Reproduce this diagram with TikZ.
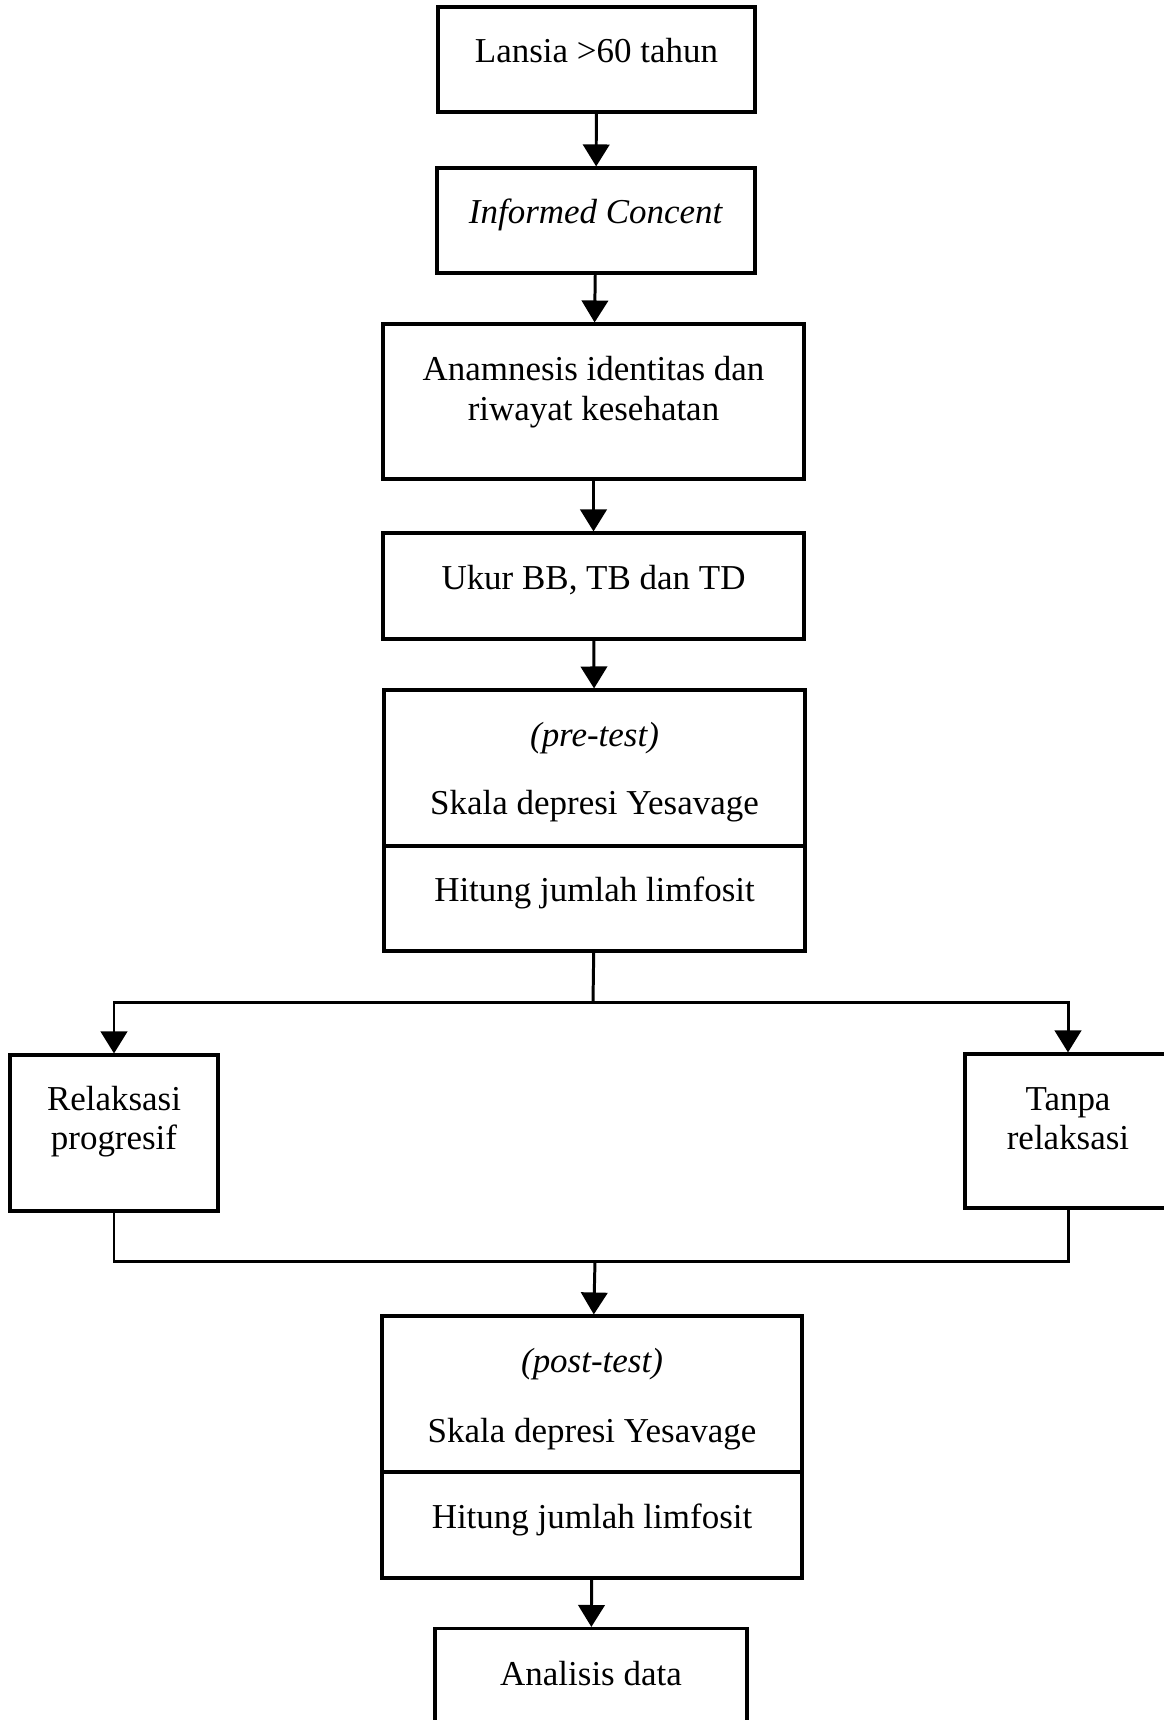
\documentclass[tikz,border=0pt]{standalone}
\usepackage{fontspec}
\setmainfont{Liberation Serif}
\usetikzlibrary{arrows.meta}

\begin{document}
\begin{tikzpicture}[x=0.02cm,y=-0.02cm,
            every node/.style={align=center,font=\fontsize{19.9pt}{21pt}\selectfont},
            stepbox/.style={draw,line width=1.8pt,inner sep=0pt},
            onerow/.style={text height=0.46cm,text depth=0.34cm},
            to/.style={-{Triangle[width=15pt,length=12.5pt]},line width=1.7pt},
            link/.style={line width=1.7pt}]

            \useasboundingbox (0,0) rectangle (1163,1720);

            % main column
            \node[stepbox,onerow,minimum width=6.34cm,minimum height=2.1cm] (lansia) at (596.5,59.5) {Lansia >60 tahun};
            \node[stepbox,onerow,minimum width=6.36cm,minimum height=2.1cm] (consent) at (596,220.5) {\textit{Informed Concent}};
            \node[stepbox,minimum width=8.42cm,minimum height=3.1cm] (anamnesis) at (593.5,401.5) {Anamnesis identitas dan\\[2pt] riwayat kesehatan\\[-5.8pt]};
            \node[stepbox,onerow,minimum width=8.42cm,minimum height=2.12cm] (ukur) at (593.5,586) {Ukur BB, TB dan TD};
            \node[stepbox,minimum width=8.42cm,minimum height=3.12cm] (pretest) at (594.5,768) {\textit{(pre-test)}\\[18pt] Skala depresi Yesavage\\[-21.6pt]};
            \node[stepbox,onerow,minimum width=8.42cm,minimum height=2.1cm] (hitungpre) at (594.5,898.5) {Hitung jumlah limfosit};

            % the two groups
            \node[stepbox,minimum width=4.16cm,minimum height=3.12cm] (relaksasi) at (114,1133) {Relaksasi\\[1.3pt]progresif\\[-3.5pt]};
            \node[stepbox,minimum width=4.12cm,minimum height=3.08cm] (tanpa) at (1068,1131) {Tanpa\\[1.3pt]relaksasi\\[-6.8pt]};

            \node[stepbox,minimum width=8.4cm,minimum height=3.12cm] (posttest) at (592,1394) {\textit{(post-test)}\\[18.6pt] Skala depresi Yesavage\\[-22.8pt]};
            \node[stepbox,onerow,minimum width=8.4cm,minimum height=2.12cm] (hitungpost) at (592,1525) {Hitung jumlah limfosit};
            \node[stepbox,onerow,minimum width=6.24cm,minimum height=2.14cm] (analisis) at (591,1682) {Analisis data};

            \coordinate (split) at (593,1002);
            \coordinate (join) at (595,1261);

            \draw[to] (lansia) -- (consent);
            \draw[to] (consent) -- (anamnesis);
            \draw[to] (anamnesis) -- (ukur);
            \draw[to] (ukur) -- (pretest);
            \draw[link] (hitungpre) -- (split);
            \draw[to] (split) -| (relaksasi);
            \draw[to] (split) -| (tanpa);
            \draw[link] (relaksasi) |- (join);
            \draw[link] (tanpa) |- (join);
            \draw[to] (join) -- (posttest);
            \draw[to] (hitungpost) -- (analisis);
        \end{tikzpicture}
\end{document}
